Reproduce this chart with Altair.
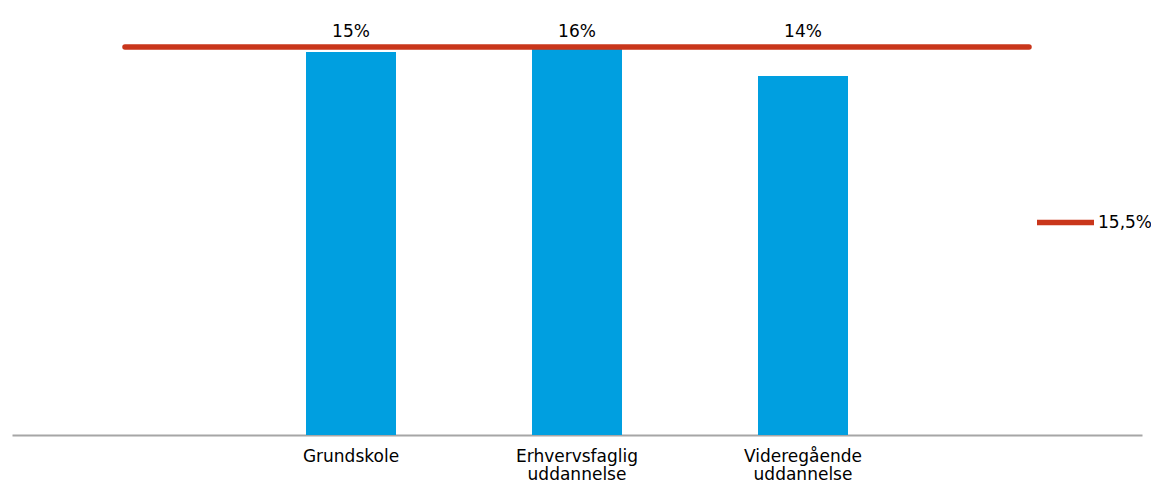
import altair as alt
import pandas as pd

categories = [" ", "Grundskole", "Erhvervsfaglig uddannelse", "Videregående uddannelse", "  "]
bar_categories = ["Grundskole", "Erhvervsfaglig uddannelse", "Videregående uddannelse"]
bar_values = [15.30, 15.42, 14.34]
bar_labels = ["15%", "16%", "14%"]
avg_value = 15.5
avg_label = "15,5%"

FONT = "DejaVu Sans"
BLUE = "#009FE0"
RED = "#C9361B"

bars_df = pd.DataFrame({"cat": bar_categories, "value": bar_values, "label": bar_labels})
line_df = pd.DataFrame({"cat": categories, "value": [avg_value] * len(categories), "series": [avg_label] * len(categories)})

x = alt.X(
    "cat:N",
    sort=categories,
    scale=alt.Scale(domain=categories, paddingInner=0.6, paddingOuter=0.3),
    axis=alt.Axis(
        title=None,
        labelAngle=0,
        ticks=False,
        domainColor="#A6A6A6",
        domainWidth=2,
        labelFont=FONT,
        labelFontSize=17,
        labelColor="#000000",
        labelPadding=13,
        labelLineHeight=18,
        labelExpr="split(datum.label, ' ')",
    ),
)
y_scale = alt.Scale(domain=[0, 16.86], nice=False)

bars = alt.Chart(bars_df).mark_bar(color=BLUE, size=90).encode(
    x=x,
    y=alt.Y("value:Q", scale=y_scale, axis=None),
)

text = alt.Chart(bars_df).transform_calculate(
    pos=f"max(datum.value, {avg_value})"
).mark_text(font=FONT, fontSize=17, color="#000000", dy=-15).encode(
    x=alt.X("cat:N", sort=categories),
    y=alt.Y("pos:Q", scale=y_scale),
    text="label:N",
)

line = alt.Chart(line_df).mark_line(strokeWidth=5.5, strokeCap="round").encode(
    x=alt.X("cat:N", sort=categories),
    y=alt.Y("value:Q", scale=y_scale),
    color=alt.Color(
        "series:N",
        scale=alt.Scale(domain=[avg_label], range=[RED]),
        legend=alt.Legend(
            title=None,
            orient="none",
            legendX=1022,
            legendY=178,
            padding=0,
            symbolType="stroke",
            symbolSize=3249,
            symbolStrokeWidth=5.5,
            labelFont=FONT,
            labelFontSize=17,
            labelColor="#000000",
            labelOffset=1,
        ),
    ),
)

chart = alt.layer(bars, line, text).properties(
    width=1130,
    height=422,
    autosize=alt.AutoSizeParams(type="none"),
    padding={"left": 4, "top": 5, "right": 9, "bottom": 47},
).configure_view(stroke=None).configure_axis(grid=False)

chart.save("out.html", embed_options={"renderer": "svg", "actions": False})
